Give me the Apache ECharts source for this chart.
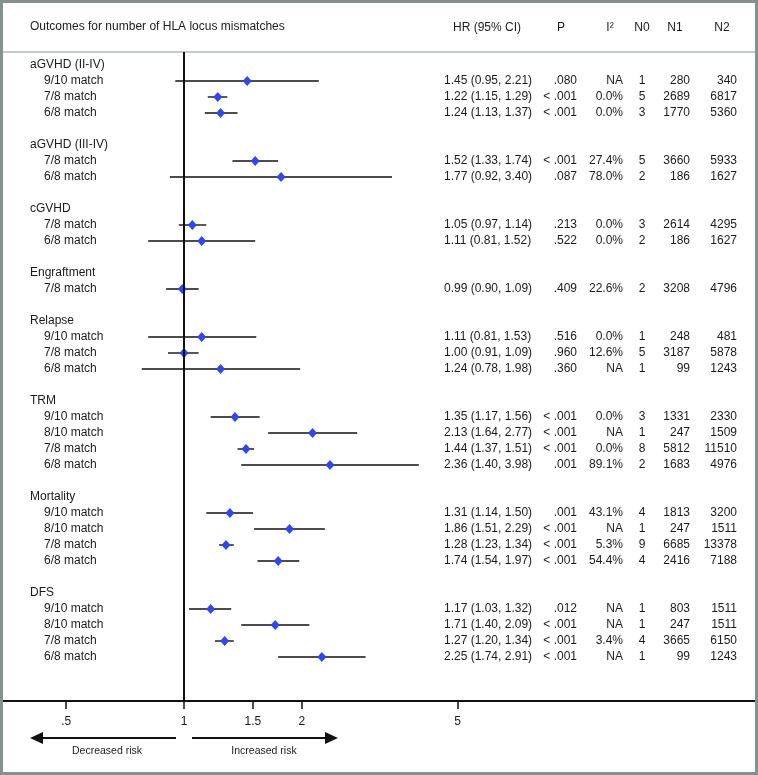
<!DOCTYPE html>
<html><head><meta charset="utf-8">
<script src="https://cdn.jsdelivr.net/npm/echarts@6/dist/echarts.min.js"></script>
<style>html,body{margin:0;padding:0;background:#fff}#c{width:758px;height:775px}</style>
</head><body><div id="c"></div>
<script>
// ---------- data ----------
const title = 'Outcomes for number of HLA locus mismatches';
const headers = ['HR (95% CI)', 'P', 'I\u00B2', 'N0', 'N1', 'N2'];
const groupNames = ['aGVHD (II-IV)', 'aGVHD (III-IV)', 'cGVHD', 'Engraftment', 'Relapse', 'TRM', 'Mortality', 'DFS'];
const groupSizes = [3, 2, 2, 1, 3, 4, 4, 4];
const rowLabels = [
  '9/10 match', '7/8 match', '6/8 match',
  '7/8 match', '6/8 match',
  '7/8 match', '6/8 match',
  '7/8 match',
  '9/10 match', '7/8 match', '6/8 match',
  '9/10 match', '8/10 match', '7/8 match', '6/8 match',
  '9/10 match', '8/10 match', '7/8 match', '6/8 match',
  '9/10 match', '8/10 match', '7/8 match', '6/8 match'
];
const hr = [1.45, 1.22, 1.24, 1.52, 1.77, 1.05, 1.11, 0.99, 1.11, 1.00, 1.24, 1.35, 2.13, 1.44, 2.36, 1.31, 1.86, 1.28, 1.74, 1.17, 1.71, 1.27, 2.25];
const ciLow = [0.95, 1.15, 1.13, 1.33, 0.92, 0.97, 0.81, 0.90, 0.81, 0.91, 0.78, 1.17, 1.64, 1.37, 1.40, 1.14, 1.51, 1.23, 1.54, 1.03, 1.40, 1.20, 1.74];
const ciHigh = [2.21, 1.29, 1.37, 1.74, 3.40, 1.14, 1.52, 1.09, 1.53, 1.09, 1.98, 1.56, 2.77, 1.51, 3.98, 1.50, 2.29, 1.34, 1.97, 1.32, 2.09, 1.34, 2.91];
const pValues = ['.080', '< .001', '< .001', '< .001', '.087', '.213', '.522', '.409', '.516', '.960', '.360', '< .001', '< .001', '< .001', '.001', '.001', '< .001', '< .001', '< .001', '.012', '< .001', '< .001', '< .001'];
const i2Values = ['NA', '0.0%', '0.0%', '27.4%', '78.0%', '0.0%', '0.0%', '22.6%', '0.0%', '12.6%', 'NA', '0.0%', 'NA', '0.0%', '89.1%', '43.1%', 'NA', '5.3%', '54.4%', 'NA', 'NA', '3.4%', 'NA'];
const n0 = [1, 5, 3, 5, 2, 3, 2, 2, 1, 5, 1, 3, 1, 8, 2, 4, 1, 9, 4, 1, 1, 4, 1];
const n1 = [280, 2689, 1770, 3660, 186, 2614, 186, 3208, 248, 3187, 99, 1331, 247, 5812, 1683, 1813, 247, 6685, 2416, 803, 247, 3665, 99];
const n2 = [340, 6817, 5360, 5933, 1627, 4295, 1627, 4796, 481, 5878, 1243, 2330, 1509, 11510, 4976, 3200, 1511, 13378, 7188, 1511, 1511, 6150, 1243];
const tickValues = [0.5, 1, 1.5, 2, 5];
const tickLabels = ['.5', '1', '1.5', '2', '5'];
const effectLabels = ['Decreased risk', 'Increased risk'];

// ---------- layout (row indices) ----------
const titleRows = [];
const itemRows = [];
(function () {
  let r = 0;
  groupSizes.forEach(function (n) {
    titleRows.push(r); r++;
    for (let i = 0; i < n; i++) { itemRows.push(r); r++; }
    r++;
  });
})();

const FONT = '"Liberation Sans", Arial, Helvetica, sans-serif';
const TXT = '#1a1a1a';
const COL = { group: 30, label: 44, hr: 444, p: 577, i2: 623, n0: 642, n1: 690, n2: 737 };
const HEAD_X = [487, 561, 610, 642, 675, 722];

function txt(x, y, text, align, size) {
  return { type: 'text', style: { x: x, y: y, text: text, align: align, verticalAlign: 'middle', fill: TXT, fontSize: size || 12, fontFamily: FONT } };
}
function hrText(i) {
  return hr[i].toFixed(2) + ' (' + ciLow[i].toFixed(2) + ', ' + ciHigh[i].toFixed(2) + ')';
}

const chart = echarts.init(document.getElementById('c'), null, { renderer: 'canvas' });
const xMin = 0.3448, xMax = 28.76;

const option = {
  animation: false,
  backgroundColor: '#fff',
  grid: { left: 3, right: 3, top: 52, bottom: 74, containLabel: false },
  xAxis: [{
    type: 'log', logBase: 10, min: xMin, max: xMax, position: 'bottom',
    axisLine: { show: true, onZero: false, lineStyle: { color: '#111', width: 2 } },
    axisTick: { show: true, customValues: tickValues, length: 8, lineStyle: { color: '#111', width: 1.5 } },
    axisLabel: { show: true, customValues: tickValues, margin: 15, fontSize: 12, color: TXT, fontFamily: FONT,
      formatter: function (v) { const k = tickValues.indexOf(+v); return k >= 0 ? tickLabels[k] : ''; } },
    splitLine: { show: false }, minorTick: { show: false }
  }, {
    type: 'log', logBase: 10, min: xMin, max: xMax, position: 'top',
    axisLine: { show: true, onZero: false, lineStyle: { color: '#c3cbcb', width: 2 } },
    axisTick: { show: false }, axisLabel: { show: false }, splitLine: { show: false }
  }],
  yAxis: { type: 'value', inverse: true, min: -0.8125, max: 39.75, show: false, splitLine: { show: false } },
  series: [{
    type: 'custom', name: 'ci', coordinateSystem: 'cartesian2d', xAxisIndex: 0,
    data: itemRows.map(function (row, i) { return [ciLow[i], ciHigh[i], row]; }),
    encode: { x: [0, 1], y: 2 },
    renderItem: function (params, api) {
      const a = api.coord([api.value(0), api.value(2)]);
      const b = api.coord([api.value(1), api.value(2)]);
      return { type: 'line', shape: { x1: a[0], y1: a[1], x2: b[0], y2: b[1] }, style: { stroke: '#111', lineWidth: 1.4 } };
    },
    z: 2
  }, {
    type: 'scatter', name: 'hr', xAxisIndex: 0,
    data: itemRows.map(function (row, i) { return [hr[i], row]; }),
    symbol: 'diamond', symbolSize: [9, 10],
    itemStyle: { color: '#2f47f2', opacity: 1 },
    z: 4,
    markLine: {
      silent: true, symbol: ['none', 'none'], label: { show: false },
      lineStyle: { color: '#111', width: 2, type: 'solid' },
      data: [{ xAxis: 1 }]
    }
  }, {
    type: 'custom', name: 'groupTitles', coordinateSystem: 'cartesian2d', xAxisIndex: 0,
    data: titleRows.map(function (row) { return [1, row]; }),
    encode: { x: 0, y: 1 },
    renderItem: function (params, api) {
      const y = api.coord([1, api.value(1)])[1];
      return txt(COL.group, y, groupNames[params.dataIndex], 'left');
    }
  }, {
    type: 'custom', name: 'table', coordinateSystem: 'cartesian2d', xAxisIndex: 0,
    data: itemRows.map(function (row) { return [1, row]; }),
    encode: { x: 0, y: 1 },
    renderItem: function (params, api) {
      const i = params.dataIndex;
      const y = api.coord([1, api.value(1)])[1];
      return { type: 'group', children: [
        txt(COL.label, y, rowLabels[i], 'left'),
        txt(COL.hr, y, hrText(i), 'left'),
        txt(COL.p, y, pValues[i], 'right'),
        txt(COL.i2, y, i2Values[i], 'right'),
        txt(COL.n0, y, String(n0[i]), 'center'),
        txt(COL.n1, y, String(n1[i]), 'right'),
        txt(COL.n2, y, String(n2[i]), 'right')
      ] };
    }
  }],
  graphic: [
    { type: 'rect', shape: { x: 1.5, y: 1.5, width: 755, height: 772 }, style: { fill: 'none', stroke: '#85918f', lineWidth: 3 }, silent: true, z: 100 },
    { type: 'text', x: 30, y: 27, style: { text: title, fontSize: 12, fontFamily: FONT, fill: TXT, verticalAlign: 'middle', align: 'left' } }
  ].concat(headers.map(function (h, k) {
    return { type: 'text', x: HEAD_X[k], y: 28, style: { text: h, fontSize: 12, fontFamily: FONT, fill: TXT, verticalAlign: 'middle', align: 'center' } };
  })).concat([
    { type: 'line', shape: { x1: 42, y1: 738, x2: 176, y2: 738 }, style: { stroke: '#111', lineWidth: 2 } },
    { type: 'polygon', shape: { points: [[30, 738], [43, 732], [43, 744]] }, style: { fill: '#111' } },
    { type: 'line', shape: { x1: 192, y1: 738, x2: 326, y2: 738 }, style: { stroke: '#111', lineWidth: 2 } },
    { type: 'polygon', shape: { points: [[338, 738], [325, 732], [325, 744]] }, style: { fill: '#111' } },
    { type: 'text', x: 107, y: 751, style: { text: effectLabels[0], fontSize: 10.5, fontFamily: FONT, fill: TXT, verticalAlign: 'middle', align: 'center' } },
    { type: 'text', x: 264, y: 751, style: { text: effectLabels[1], fontSize: 10.5, fontFamily: FONT, fill: TXT, verticalAlign: 'middle', align: 'center' } }
  ])
};
chart.setOption(option);
</script>
</body></html>
